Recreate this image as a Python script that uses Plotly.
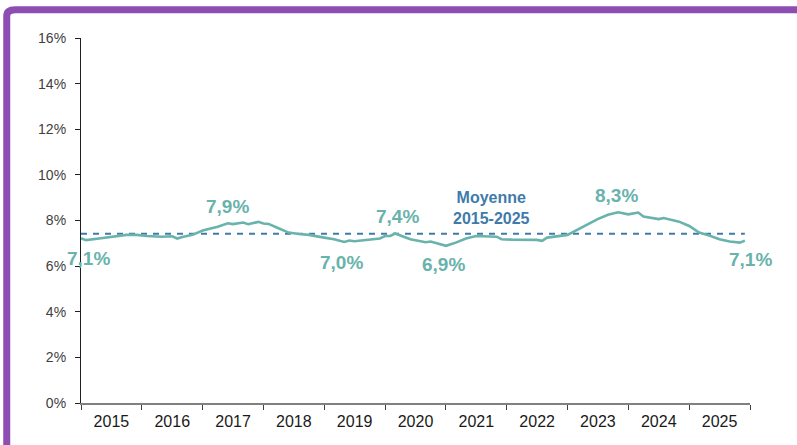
import plotly.graph_objects as go
import pandas as pd

# month offsets from Jan 2015 and values (%)
month_idx = [0, 1, 4, 6, 9, 11, 13, 16, 18, 19, 20, 22, 24, 27, 29, 30, 32, 33, 35, 36, 37,
             39, 41, 43, 45, 48, 50, 52, 53, 54, 57, 59, 60, 61, 62, 65, 68, 69, 72, 74, 76,
             78, 82, 83, 85, 88, 90, 91, 92, 96, 99, 102, 104, 106, 108, 110, 111, 114, 115,
             118, 120, 122, 124, 126, 128, 130, 131]
values = [7.22, 7.14, 7.22, 7.29, 7.37, 7.37, 7.32, 7.29, 7.31, 7.21, 7.28, 7.37, 7.56, 7.73,
          7.88, 7.84, 7.91, 7.84, 7.94, 7.87, 7.85, 7.66, 7.47, 7.41, 7.37, 7.25, 7.18, 7.06,
          7.12, 7.09, 7.15, 7.21, 7.32, 7.32, 7.43, 7.18, 7.05, 7.08, 6.89, 7.03, 7.21, 7.32,
          7.29, 7.18, 7.16, 7.15, 7.15, 7.11, 7.25, 7.37, 7.73, 8.06, 8.25, 8.36, 8.27, 8.35,
          8.17, 8.06, 8.11, 7.95, 7.76, 7.47, 7.34, 7.18, 7.08, 7.03, 7.12]
moyenne = 7.42

dates = [pd.Timestamp(2015, 1, 1) + pd.DateOffset(months=m) for m in month_idx]

# annotation labels: (month offset, y position, text)
label_months = [1.4, 29, 51.5, 62.5, 71.6, 105.7, 132]
label_y = [6.32, 8.6, 6.18, 8.16, 6.05, 9.08, 6.27]
label_text = ["7,1%", "7,9%", "7,0%", "7,4%", "6,9%", "8,3%", "7,1%"]

y_ticks = [0, 2, 4, 6, 8, 10, 12, 14, 16]
y_labels = [f"{v}%" for v in y_ticks]

teal = "#69B3AC"
blue = "#3F7BAA"

def mdate(m):
    base = pd.Timestamp(2015, 1, 1)
    whole = int(m)
    frac = m - whole
    d = base + pd.DateOffset(months=whole)
    return d + pd.Timedelta(days=30.4 * frac)

fig = go.Figure()
fig.add_trace(go.Scatter(x=[dates[0], dates[-1]], y=[moyenne, moyenne], mode="lines",
                         line=dict(color=blue, width=2, dash="6px,6px"), hoverinfo="skip"))
fig.add_trace(go.Scatter(x=dates, y=values, mode="lines",
                         line=dict(color=teal, width=2.6), cliponaxis=False))

for m, yv, t in zip(label_months, label_y, label_text):
    fig.add_annotation(x=mdate(m), y=yv, text="<b>" + t + "</b>", showarrow=False,
                       font=dict(family="Arial", size=19, color=teal))
fig.add_annotation(x=mdate(81), y=8.55, text="<b>Moyenne<br>2015-2025</b>", showarrow=False,
                   font=dict(family="Arial", size=16, color=blue))

# purple frame (left and top)
fig.add_shape(type="path", xref="paper", yref="paper",
              path="M -0.111,-0.2 L -0.111,1.06 Q -0.111,1.0775 -0.098,1.0775 L 1.2,1.0775",
              line=dict(color="#8E4DB3", width=7), layer="above")

fig.update_layout(
    width=797, height=445,
    margin=dict(l=81, r=47, t=38, b=42),
    plot_bgcolor="white", paper_bgcolor="white",
    showlegend=False,
    font=dict(family="Arial", color="#404040", size=14),
    xaxis=dict(type="date", range=[pd.Timestamp(2015, 1, 1), pd.Timestamp(2026, 1, 1)],
               dtick="M12", tick0="2015-01-01", tickformat="%Y", ticklabelmode="period",
               ticks="outside", ticklen=5, tickcolor="#404040", showline=True,
               linecolor="#808080", linewidth=1.5, showgrid=False, zeroline=False,
               ticklabelstandoff=-2,
               tickfont=dict(size=16, color="#1a1a1a")),
    yaxis=dict(range=[0, 16], tickvals=y_ticks, ticktext=y_labels, ticks="outside", ticklen=5,
               tickcolor="#202020", showline=True, linecolor="#202020", linewidth=1.2,
               showgrid=False, zeroline=False, ticklabelstandoff=6,
               tickfont=dict(size=14, color="#404040")),
)

fig.write_html("out.html", config={"displayModeBar": False},
               post_script="document.body.style.margin='0';document.body.style.overflow='hidden';")
